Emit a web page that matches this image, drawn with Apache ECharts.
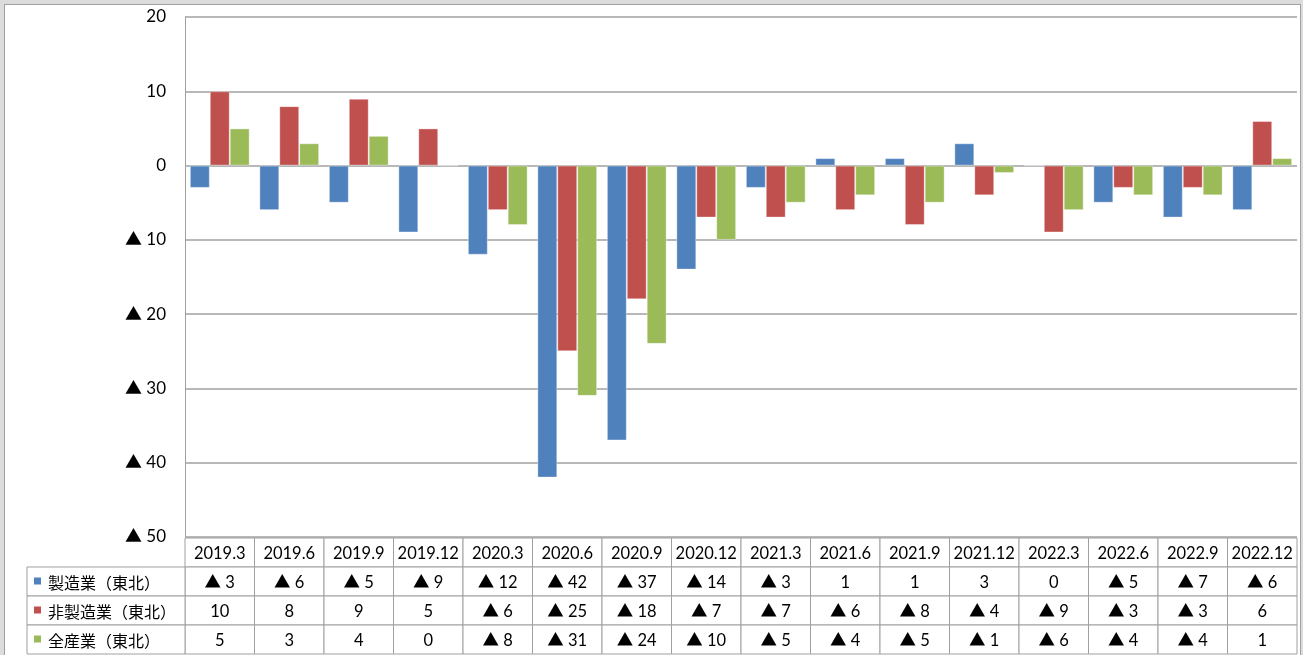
<!DOCTYPE html>
<html>
<head>
<meta charset="utf-8">
<script src="https://cdn.jsdelivr.net/npm/echarts@6/dist/echarts.min.js"></script>
<style>
  html, body { margin: 0; padding: 0; background: #dcdcdc; overflow: hidden; }
  #frame { position: absolute; left: 4px; top: 4px; width: 1295px; height: 700px; background: #fff; border: 1px solid #a0a0a0; }
  #chart { position: absolute; left: 0; top: 0; width: 1303px; height: 655px; }
</style>
</head>
<body>
<div id="frame"></div>
<div id="chart"></div>
<script>
// 四半期
var categories = ['2019.3', '2019.6', '2019.9', '2019.12', '2020.3', '2020.6', '2020.9', '2020.12',
  '2021.3', '2021.6', '2021.9', '2021.12', '2022.3', '2022.6', '2022.9', '2022.12']
var seriesNames = ['製造業（東北）', '非製造業（東北）', '全産業（東北）']
var seriesColors = ['#4f81bd', '#c0504d', '#9bbb59']
var seizo = [-3, -6, -5, -9, -12, -42, -37, -14, -3, 1, 1, 3, 0, -5, -7, -6]
var hiseizo = [10, 8, 9, 5, -6, -25, -18, -7, -7, -6, -8, -4, -9, -3, -3, 6]
var zensangyo = [5, 3, 4, 0, -8, -31, -24, -10, -5, -4, -5, -1, -6, -4, -4, 1]
var yTicks = { min: -50, max: 20, interval: 10 }

var font = 'Lato, "Noto Sans CJK JP"'
var lineColor = '#a0a0a0'
var allValues = [seizo, hiseizo, zensangyo]

function fmt (v) {
  return v < 0 ? '▲ ' + (-v) : String(v)
}

// 表のセル（見出し行 + 3系列）
var cells = []
categories.forEach(function (c, i) {
  cells.push({ value: [i, 0], label: c })
  allValues.forEach(function (arr, s) {
    cells.push({ value: [i, s + 1], label: fmt(arr[i]) })
  })
})
var nameCells = seriesNames.map(function (n, s) {
  return { value: [0, s], label: n, color: seriesColors[s] }
})

function renderCell (params, api) {
  var c = api.coord([api.value(0), api.value(1)])
  var size = api.size([1, 1])
  return {
    type: 'group',
    children: [
      {
        type: 'rect',
        shape: { x: c[0] - size[0] / 2, y: c[1] - size[1] / 2, width: size[0], height: size[1] },
        style: { fill: '#fff', stroke: lineColor, lineWidth: 1 }
      },
      {
        type: 'text',
        style: {
          text: cells[params.dataIndex].label,
          x: c[0],
          y: c[1] + 1,
          align: 'center',
          verticalAlign: 'middle',
          fill: '#000',
          font: '16.5px ' + font
        }
      }
    ]
  }
}

function renderName (params, api) {
  var c = api.coord([api.value(0), api.value(1)])
  var size = api.size([1, 1])
  var left = c[0] - size[0] / 2
  var item = nameCells[params.dataIndex]
  return {
    type: 'group',
    children: [
      {
        type: 'rect',
        shape: { x: left, y: c[1] - size[1] / 2, width: size[0], height: size[1] },
        style: { fill: '#fff', stroke: lineColor, lineWidth: 1 }
      },
      {
        type: 'rect',
        shape: { x: left + 7, y: c[1] - 4, width: 7, height: 7 },
        style: { fill: item.color }
      },
      {
        type: 'text',
        style: {
          text: item.label,
          x: left + 21,
          y: c[1] + 1,
          align: 'left',
          verticalAlign: 'middle',
          fill: '#000',
          font: '16px "Noto Sans CJK JP"'
        }
      }
    ]
  }
}

var chart = echarts.init(document.getElementById('chart'))
chart.setOption({
  animation: false,
  backgroundColor: 'transparent',
  grid: [
    { left: 185, top: 17, width: 1112, height: 520 },
    { left: 185, top: 538, width: 1112, height: 116 },
    { left: 27, top: 567, width: 158, height: 87 }
  ],
  xAxis: [
    {
      type: 'category',
      data: categories,
      gridIndex: 0,
      axisLine: { show: false },
      axisTick: { show: false },
      axisLabel: { show: false }
    },
    {
      type: 'category',
      data: categories,
      gridIndex: 1,
      show: false
    },
    {
      type: 'category',
      data: ['name'],
      gridIndex: 2,
      show: false
    }
  ],
  yAxis: [
    {
      type: 'value',
      gridIndex: 0,
      min: yTicks.min,
      max: yTicks.max,
      interval: yTicks.interval,
      axisLine: { show: true, lineStyle: { color: lineColor, width: 1 } },
      axisTick: { show: false },
      splitLine: { lineStyle: { color: lineColor, width: 1.5 } },
      axisLabel: {
        formatter: fmt,
        color: '#000',
        fontSize: 17,
        fontFamily: font,
        margin: 19
      }
    },
    {
      type: 'category',
      data: ['head', 's1', 's2', 's3'],
      gridIndex: 1,
      inverse: true,
      show: false
    },
    {
      type: 'category',
      data: seriesNames,
      gridIndex: 2,
      inverse: true,
      show: false
    }
  ],
  series: [
    {
      name: seriesNames[0],
      type: 'bar',
      data: seizo,
      barGap: '0%',
      barCategoryGap: '14%',
      itemStyle: { color: seriesColors[0], borderColor: 'rgba(255,255,255,0.35)', borderWidth: 1 }
    },
    {
      name: seriesNames[1],
      type: 'bar',
      data: hiseizo,
      barGap: '0%',
      barCategoryGap: '14%',
      itemStyle: { color: seriesColors[1], borderColor: 'rgba(255,255,255,0.35)', borderWidth: 1 }
    },
    {
      name: seriesNames[2],
      type: 'bar',
      data: zensangyo,
      barGap: '0%',
      barCategoryGap: '14%',
      itemStyle: { color: seriesColors[2], borderColor: 'rgba(255,255,255,0.35)', borderWidth: 1 }
    },
    {
      type: 'custom',
      xAxisIndex: 1,
      yAxisIndex: 1,
      renderItem: renderCell,
      data: cells.map(function (d) { return d.value }),
      silent: true
    },
    {
      type: 'custom',
      xAxisIndex: 2,
      yAxisIndex: 2,
      renderItem: renderName,
      data: nameCells.map(function (d) { return d.value }),
      silent: true
    }
  ]
})
</script>
</body>
</html>
